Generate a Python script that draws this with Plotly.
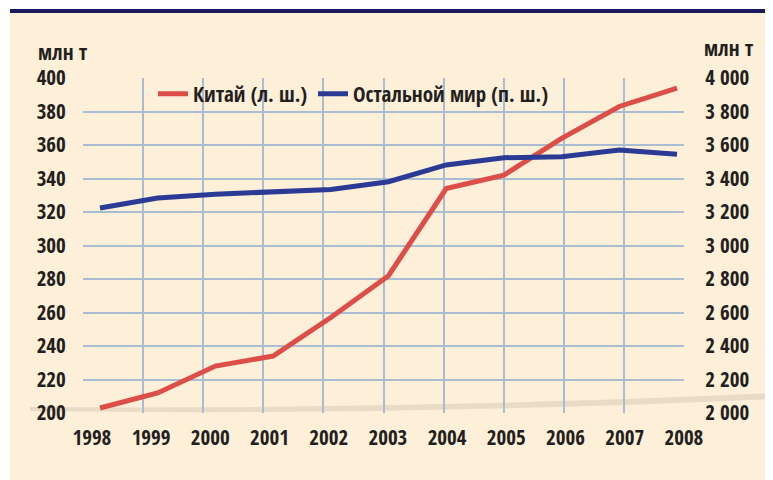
import plotly.graph_objects as go

# ---- data ----
years = [1998, 1999, 2000, 2001, 2002, 2003, 2004, 2005, 2006, 2007, 2008]
china = [203, 212, 228, 234, 257, 282, 334, 342, 364, 383, 394]
rest_world = [3224, 3284, 3306, 3322, 3335, 3381, 3481, 3524, 3530, 3570, 3545]
left_ticks = [200, 220, 240, 260, 280, 300, 320, 340, 360, 380, 400]
right_ticks = [2000, 2200, 2400, 2600, 2800, 3000, 3200, 3400, 3600, 3800, 4000]
right_tick_text = ["2 000", "2 200", "2 400", "2 600", "2 800", "3 000",
                   "3 200", "3 400", "3 600", "3 800", "4 000"]
x_labels = [str(y) for y in years]
name_china = "Китай (л. ш.)"
name_rest = "Остальной мир (п. ш.)"
unit = "млн т"

# page body has an 8px margin: figure is sized to fill the rest of the window
OFF = 8
W, H = 773 - OFF, 480 - OFF


def xp(px):
    return (px - OFF) / W


def yp(py):
    return 1 - (py - OFF) / H


FONT = "Open Sans Condensed, Roboto Condensed, sans-serif"
TXT = "#231f20"
GRID = "#a9bdd2"
RED = "#dc4e47"
BLUE = "#2a3a95"
CREAM = "#fdefd8"

px0, px1 = 83, 684      # plot left/right in page px
py0, py1 = 78, 413      # plot top/bottom in page px
xdom = [xp(px0), xp(px1)]
ydom = [yp(py1), yp(py0)]

# data x-axis placement (1998 at ~100px, 2008 at ~677px)
ppy = (677 - 100) / 10.0
xr_data = [1998 - (100 - px0) / ppy, 2008 + (px1 - 677) / ppy]

fig = go.Figure()
fig.add_trace(go.Scatter(x=years, y=china, name=name_china, mode="lines", legend="legend",
                         line=dict(color=RED, width=5), xaxis="x", yaxis="y"))
fig.add_trace(go.Scatter(x=years, y=rest_world, name=name_rest, mode="lines", legend="legend2",
                         line=dict(color=BLUE, width=5), xaxis="x", yaxis="y2"))
# helper traces so grid/label axes render
fig.add_trace(go.Scatter(x=years, y=china, mode="lines", opacity=0, showlegend=False,
                         hoverinfo="skip", xaxis="x2", yaxis="y"))
fig.add_trace(go.Scatter(x=years, y=china, mode="lines", opacity=0, showlegend=False,
                         hoverinfo="skip", xaxis="x3", yaxis="y"))

tickfont = dict(family=FONT, size=21, color=TXT, weight="bold")
legfont = dict(family=FONT, size=21, color=TXT, weight="bold")
unitfont = dict(family=FONT, size=21, color=TXT, weight="bold")

fig.update_layout(
    width=W, height=H,
    margin=dict(l=0, r=0, t=0, b=0, autoexpand=False),
    paper_bgcolor="white",
    plot_bgcolor="rgba(0,0,0,0)",
    showlegend=True,
    legend=dict(orientation="h", x=xp(153), y=yp(94), xanchor="left", yanchor="middle",
                bgcolor="rgba(0,0,0,0)", font=legfont),
    legend2=dict(orientation="h", x=xp(313), y=yp(94), xanchor="left", yanchor="middle",
                 bgcolor="rgba(0,0,0,0)", font=legfont),
    xaxis=dict(domain=xdom, range=xr_data, visible=False, anchor="y", automargin=False),
    xaxis2=dict(overlaying="x", range=[1998, 2008], tickvals=years, showticklabels=False,
                showgrid=True, gridcolor=GRID, gridwidth=2, zeroline=False, anchor="y",
                showline=False, ticks="", automargin=False),
    xaxis3=dict(overlaying="x", range=[1997.85, 2008.002], tickvals=years, ticktext=x_labels,
                showgrid=False, zeroline=False, anchor="y", ticks="outside", ticklen=6,
                tickcolor="rgba(0,0,0,0)", tickfont=tickfont, tickangle=0, automargin=False),
    yaxis=dict(domain=ydom, range=[200, 400], tickvals=left_ticks, showgrid=True,
               gridcolor=GRID, gridwidth=2, zeroline=False, ticks="outside", ticklen=12,
               tickcolor="rgba(0,0,0,0)", tickfont=tickfont, anchor="x", automargin=False),
    yaxis2=dict(overlaying="y", side="right", range=[2000, 4000], tickvals=right_ticks,
                ticktext=right_tick_text, showgrid=False, zeroline=False, ticks="outside",
                ticklen=16, tickcolor="rgba(0,0,0,0)", tickfont=tickfont, anchor="x",
                automargin=False),
    annotations=[
        dict(text=unit, x=xp(36), y=yp(52), xref="paper", yref="paper",
             xanchor="left", yanchor="middle", showarrow=False, font=unitfont),
        dict(text=unit, x=xp(702), y=yp(48), xref="paper", yref="paper",
             xanchor="left", yanchor="middle", showarrow=False, font=unitfont),
    ],
    shapes=[
        dict(type="rect", xref="paper", yref="paper", x0=xp(10), x1=1, y0=0, y1=yp(13),
             fillcolor=CREAM, line=dict(width=0), layer="below"),
        dict(type="rect", xref="paper", yref="paper", x0=xp(10), x1=1, y0=yp(13),
             y1=yp(9), fillcolor="#1b1a60", line=dict(width=0), layer="below"),
        dict(type="path", xref="paper", yref="paper", layer="below",
             path=f"M {xp(30)},{yp(407)} Q {xp(400)},{yp(410)} 1,{yp(393)} "
                  f"L 1,{yp(399)} Q {xp(400)},{yp(416)} {xp(30)},{yp(411)} Z",
             fillcolor="rgba(120,110,100,0.15)", line=dict(width=0)),
    ],
)

fig.write_html("out.html")
